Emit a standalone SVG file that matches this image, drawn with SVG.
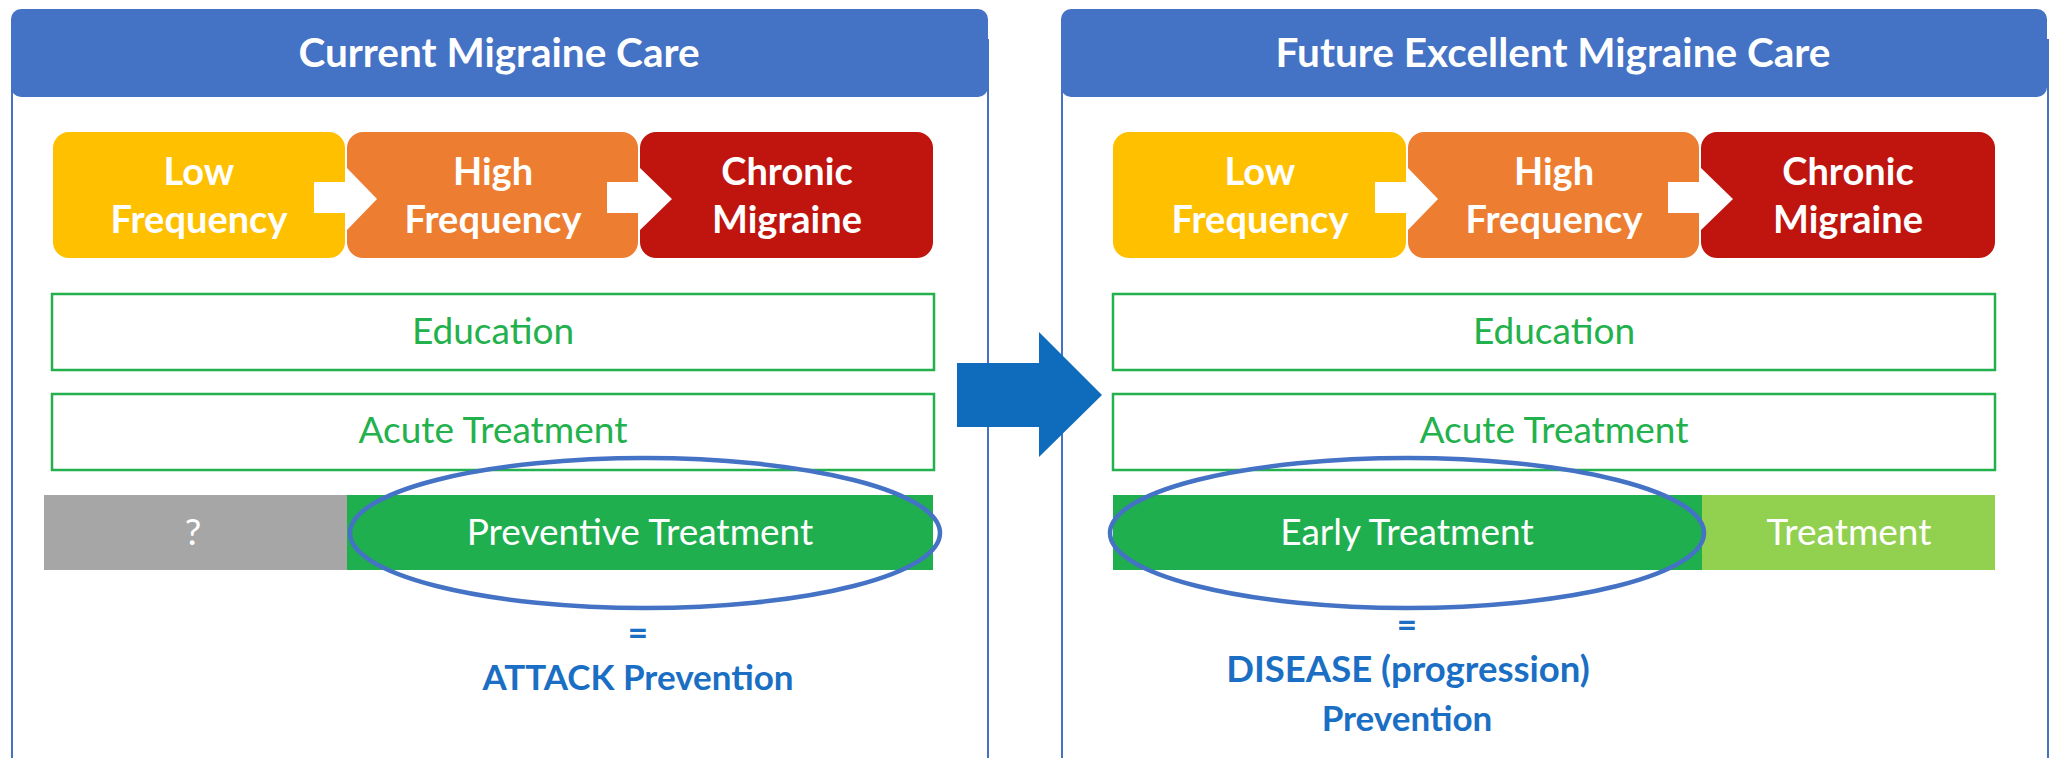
<svg xmlns="http://www.w3.org/2000/svg" width="2053" height="758" viewBox="0 0 2053 758">
<style>
text{font-family:Lato,"Open Sans","Liberation Sans",sans-serif;text-anchor:middle}
.panel{fill:#fff;stroke:#4472C4;stroke-width:2}
.hdr{fill:#4472C4}
.title{font-weight:700;font-size:40.5px;fill:#fff}
.stage{font-weight:700;font-size:38px;fill:#fff}
.gbox{fill:#fff;stroke:#22B14C;stroke-width:2.5}
.gtxt{font-size:37px;fill:#22B14C}
.wtxt{font-size:37px;fill:#fff}
.btxt{font-weight:700;font-size:35px;fill:#1A6FC4}
.ring{fill:none;stroke:#4472C4;stroke-width:4.5}
.conn{fill:#fff}
</style>
<rect width="2053" height="758" fill="#fff"/>
<g id="panel-current">
<rect class="panel" x="12" y="40" width="976" height="740"/>
<rect class="hdr" x="11" y="9" width="977" height="88" rx="10"/>
<text class="title" x="499" y="67">Current Migraine Care</text>
</g>
<g id="panel-future">
<rect class="panel" x="1062" y="40" width="986" height="740"/>
<rect class="hdr" x="1061" y="9" width="986" height="88" rx="10"/>
<text class="title" x="1553" y="67">Future Excellent Migraine Care</text>
</g>
<g id="c-low"><rect x="53" y="132" width="292" height="126" rx="16" fill="#FFC000"/></g>
<g id="c-high"><rect x="347" y="132" width="291" height="126" rx="16" fill="#ED7D31"/></g>
<g id="c-chronic"><rect x="640" y="132" width="293" height="126" rx="16" fill="#C0140F"/></g>
<g id="f-low"><rect x="1113" y="132" width="293" height="126" rx="16" fill="#FFC000"/></g>
<g id="f-high"><rect x="1408" y="132" width="291" height="126" rx="16" fill="#ED7D31"/></g>
<g id="f-chronic"><rect x="1701" y="132" width="294" height="126" rx="16" fill="#C0140F"/></g>
<g id="connectors">
<polygon class="conn" points="314,182 347,182 347,168 377,199 347,230 347,213 314,213"/>
<polygon class="conn" points="607,182 640,182 640,168 672,199 640,230 640,213 607,213"/>
<polygon class="conn" points="1375,182 1408,182 1408,168 1438,199 1408,230 1408,213 1375,213"/>
<polygon class="conn" points="1668,182 1701,182 1701,168 1733,199 1701,230 1701,213 1668,213"/>
<polygon fill="#0F6CBD" points="957,363 1039,363 1039,332 1102,395 1039,457 1039,427 957,427"/>
</g>
<g id="c-low-t"><text class="stage" x="199" y="185">Low</text><text class="stage" x="199" y="233">Frequency</text></g>
<g id="c-high-t"><text class="stage" x="493" y="185">High</text><text class="stage" x="493" y="233">Frequency</text></g>
<g id="c-chronic-t"><text class="stage" x="787" y="185">Chronic</text><text class="stage" x="787" y="233">Migraine</text></g>
<g id="f-low-t"><text class="stage" x="1260" y="185">Low</text><text class="stage" x="1260" y="233">Frequency</text></g>
<g id="f-high-t"><text class="stage" x="1554" y="185">High</text><text class="stage" x="1554" y="233">Frequency</text></g>
<g id="f-chronic-t"><text class="stage" x="1848" y="185">Chronic</text><text class="stage" x="1848" y="233">Migraine</text></g>
<g id="c-education"><rect class="gbox" x="52" y="294" width="882" height="76"/><text class="gtxt" x="493" y="344">Education</text></g>
<g id="c-acute"><rect class="gbox" x="52" y="394" width="882" height="76"/><text class="gtxt" x="493" y="443">Acute Treatment</text></g>
<g id="c-unknown"><rect x="44" y="495" width="303" height="75" fill="#A6A6A6"/><text class="wtxt" x="193" y="545">?</text></g>
<g id="c-preventive"><rect x="347" y="495" width="586" height="75" fill="#1FAF4F"/><text class="wtxt" x="640" y="545">Preventive Treatment</text></g>
<g id="c-ring"><ellipse class="ring" cx="645" cy="533" rx="295" ry="75"/></g>
<g id="c-result"><text class="btxt" x="638" y="645">=</text><text class="btxt" x="638" y="690">ATTACK Prevention</text></g>
<g id="f-education"><rect class="gbox" x="1113" y="294" width="882" height="76"/><text class="gtxt" x="1554" y="344">Education</text></g>
<g id="f-acute"><rect class="gbox" x="1113" y="394" width="882" height="76"/><text class="gtxt" x="1554" y="443">Acute Treatment</text></g>
<g id="f-early"><rect x="1113" y="495" width="589" height="75" fill="#1FAF4F"/><text class="wtxt" x="1407" y="545">Early Treatment</text></g>
<g id="f-treatment"><rect x="1702" y="495" width="293" height="75" fill="#92D050"/><text class="wtxt" x="1849" y="545">Treatment</text></g>
<g id="f-ring"><ellipse class="ring" cx="1407" cy="533" rx="297" ry="75"/></g>
<g id="f-result"><text class="btxt" x="1407" y="637">=</text><text class="btxt" x="1408" y="682" style="font-size:36.5px">DISEASE (progression)</text><text class="btxt" x="1407" y="731">Prevention</text></g>
</svg>
